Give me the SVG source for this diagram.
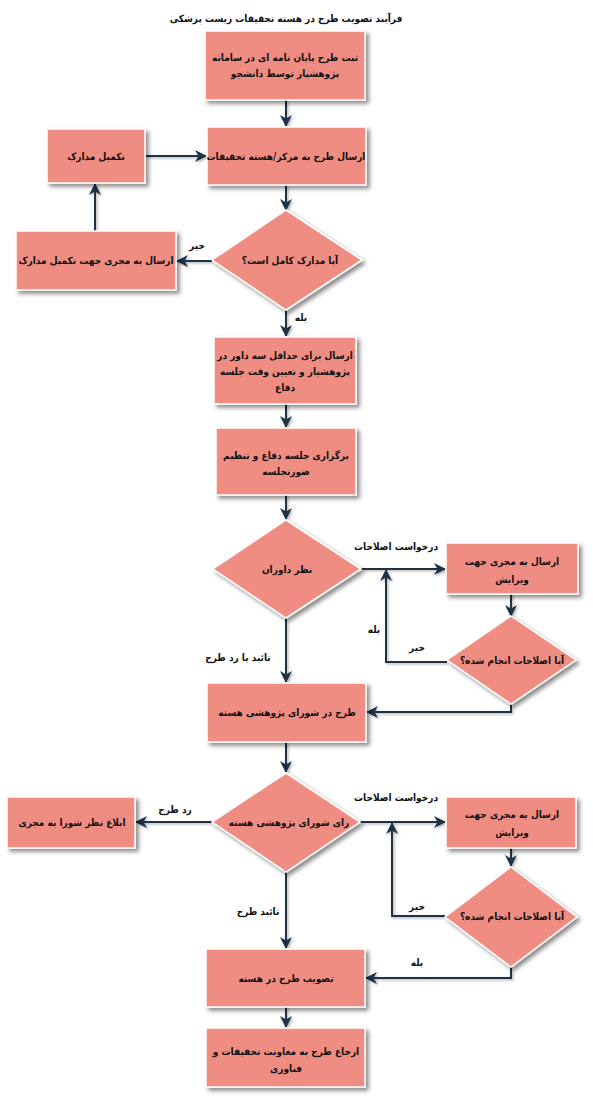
<svg xmlns="http://www.w3.org/2000/svg" width="593" height="1106" viewBox="0 0 593 1106">
<style>
.n{fill:#F08D82;stroke:#ffffff;stroke-width:1.5;filter:url(#sh)}
.t{font-family:"DejaVu Sans Condensed","DejaVu Sans",sans-serif;font-stretch:condensed;font-weight:bold;font-size:10px;fill:#111;text-anchor:middle;direction:rtl}
.l{font-family:"DejaVu Sans Condensed","DejaVu Sans",sans-serif;font-stretch:condensed;font-weight:bold;font-size:10px;fill:#111;text-anchor:middle;direction:rtl}
.c{fill:none;stroke:#1C3347;stroke-width:2;marker-end:url(#ah)}
</style>
<defs>
<filter id="sh" x="-10%" y="-10%" width="130%" height="140%">
<feDropShadow dx="3" dy="3" stdDeviation="2" flood-color="#000" flood-opacity="0.45"/>
</filter>
<filter id="shc" x="-20%" y="-20%" width="140%" height="140%">
<feDropShadow dx="1.5" dy="1.5" stdDeviation="1" flood-color="#000" flood-opacity="0.3"/>
</filter>
<marker id="ah" markerUnits="userSpaceOnUse" markerWidth="12" markerHeight="12" refX="11" refY="6" orient="auto">
<path d="M0,0 L12,6 L0,12 L3.5,6 z" fill="#1C3347"/>
</marker>
</defs>
<rect width="593" height="1106" fill="#fff"/>
<text class="t" x="286" y="22">فرآیند تصویب طرح در هسته تحقیقات زیست پزشکی</text>

<g id="connectors" filter="url(#shc)">
<path class="c" d="M286,100 L286,126"/>
<path class="c" d="M146,156 L206,156"/>
<path class="c" d="M286,185 L286,210"/>
<path class="c" d="M212,261 L177,261"/>
<path class="c" d="M95,231 L95,184"/>
<path class="c" d="M286,310 L286,336"/>
<path class="c" d="M286,404 L286,427"/>
<path class="c" d="M286,495 L286,519"/>
<path class="c" d="M361,569 L445,569"/>
<path class="c" d="M511,594 L511,616"/>
<path class="c" d="M447,662 L386,662 L386,570"/>
<path class="c" d="M511,704 L511,712 L367,712"/>
<path class="c" d="M286,618 L286,682"/>
<path class="c" d="M286,742 L286,772"/>
<path class="c" d="M212,822 L136,822"/>
<path class="c" d="M360,822 L445,822"/>
<path class="c" d="M511,848 L511,866"/>
<path class="c" d="M445,916 L392,916 L392,823"/>
<path class="c" d="M511,967 L511,978 L366,978"/>
<path class="c" d="M286,872 L286,948"/>
<path class="c" d="M286,1007 L286,1027"/>
</g>

<g id="n1"><rect class="n" x="205" y="31" width="160" height="69"/>
<text class="t" x="285" y="61">ثبت طرح پایان نامه ای در سامانه</text>
<text class="t" x="285" y="77">پژوهشیار توسط دانشجو</text></g>

<g id="n2"><rect class="n" x="207" y="127" width="159" height="58"/>
<text class="t" x="286" y="160">ارسال طرح به مرکز/هسته تحقیقات</text></g>

<g id="n3"><rect class="n" x="47" y="129" width="98" height="54"/>
<text class="t" x="96" y="160">تکمیل مدارک</text></g>

<g id="d1"><polygon class="n" points="286,210 362,260 286,310 212,260"/>
<text class="t" x="290" y="264">آیا مدارک کامل است؟</text></g>

<g id="n4"><rect class="n" x="16" y="231" width="160" height="59"/>
<text class="t" x="96" y="264">ارسال به مجری جهت تکمیل مدارک</text></g>

<g id="n5"><rect class="n" x="214" y="337" width="142" height="67"/>
<text class="t" x="285" y="359">ارسال برای حداقل سه داور در</text>
<text class="t" x="285" y="375">پژوهشیار و تعیین وقت جلسه</text>
<text class="t" x="285" y="391">دفاع</text></g>

<g id="n6"><rect class="n" x="216" y="428" width="140" height="67"/>
<text class="t" x="286" y="459">برگزاری جلسه دفاع و تنظیم</text>
<text class="t" x="286" y="475">صورتجلسه</text></g>

<g id="d2"><polygon class="n" points="286,520 361,569 286,618 213,569"/>
<text class="t" x="287" y="573">نظر داوران</text></g>

<g id="n7"><rect class="n" x="446" y="543" width="132" height="51"/>
<text class="t" x="512" y="565">ارسال به مجری جهت</text>
<text class="t" x="512" y="583">ویرایش</text></g>

<g id="d3"><polygon class="n" points="511,616 576,660 511,704 447,660"/>
<text class="t" x="512" y="664">آیا اصلاحات انجام شده؟</text></g>

<g id="n8"><rect class="n" x="207" y="683" width="159" height="59"/>
<text class="t" x="287" y="716">طرح در شورای پژوهشی هسته</text></g>

<g id="d4"><polygon class="n" points="286,773 360,822 286,872 212,822"/>
<text class="t" x="289" y="826">رای شورای پژوهشی هسته</text></g>

<g id="n9"><rect class="n" x="7" y="797" width="128" height="51"/>
<text class="t" x="72" y="826">ابلاغ نظر شورا به مجری</text></g>

<g id="n10"><rect class="n" x="446" y="797" width="130" height="51"/>
<text class="t" x="512" y="818">ارسال به مجری جهت</text>
<text class="t" x="512" y="836">ویرایش</text></g>

<g id="d5"><polygon class="n" points="511,867 577,917 511,967 445,917"/>
<text class="t" x="512" y="920">آیا اصلاحات انجام شده؟</text></g>

<g id="n11"><rect class="n" x="206" y="949" width="159" height="58"/>
<text class="t" x="286" y="982">تصویب طرح در هسته</text></g>

<g id="n12"><rect class="n" x="206" y="1028" width="159" height="59"/>
<text class="t" x="286" y="1055">ارجاع طرح به معاونت تحقیقات و</text>
<text class="t" x="286" y="1072">فناوری</text></g>

<g id="labels">
<text class="l" x="197" y="249">خیر</text>
<text class="l" x="301" y="321">بله</text>
<text class="l" x="396" y="550">درخواست اصلاحات</text>
<text class="l" x="374" y="633">بله</text>
<text class="l" x="417" y="651">خیر</text>
<text class="l" x="238" y="661">تائید یا رد طرح</text>
<text class="l" x="175" y="813">رد طرح</text>
<text class="l" x="396" y="801">درخواست اصلاحات</text>
<text class="l" x="417" y="910">خیر</text>
<text class="l" x="417" y="966">بله</text>
<text class="l" x="258" y="915">تائید طرح</text>
</g>
</svg>
